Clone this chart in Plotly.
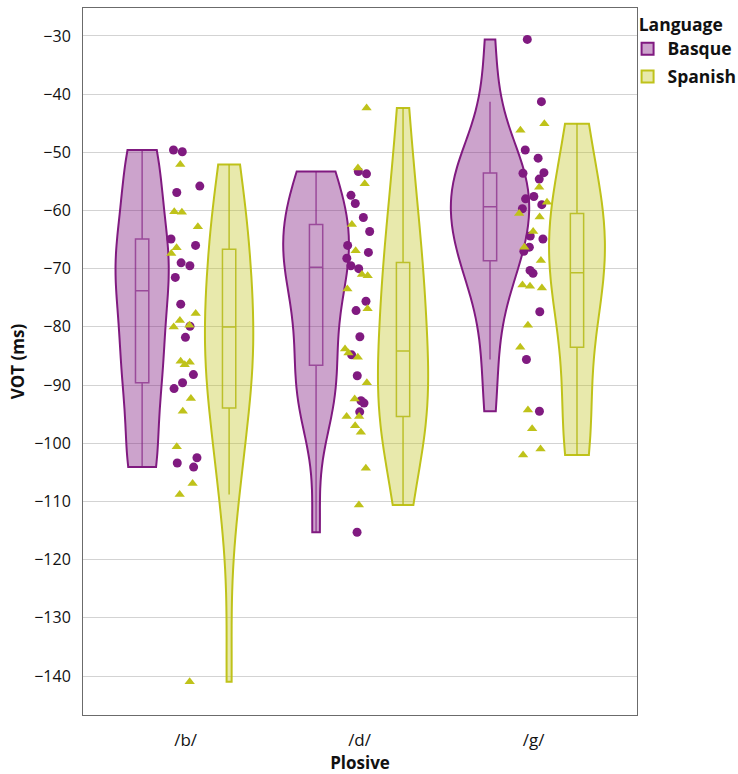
import plotly.graph_objects as go

plosives = ["/b/", "/d/", "/g/"]
languages = ["Basque", "Spanish"]

basque_b = [-49.6, -49.9, -55.8, -56.9, -64.9, -66.0, -69.0, -69.5, -71.5, -76.1,
            -79.9, -81.8, -88.2, -89.6, -90.6, -102.5, -103.4, -104.1]
basque_d = [-53.3, -53.7, -57.4, -58.8, -61.2, -63.6, -66.0, -67.2, -68.2, -69.5,
            -70.0, -75.6, -77.2, -81.7, -84.8, -88.4, -92.7, -93.1, -94.6, -115.3]
basque_g = [-30.6, -41.3, -49.6, -51.0, -53.5, -53.6, -54.6, -57.6, -58.0, -59.0,
            -59.7, -64.4, -64.9, -66.3, -67.0, -70.3, -70.8, -77.4, -85.6, -94.5]

spanish_b = [-52.1, -60.2, -60.3, -62.8, -66.4, -67.4, -77.7, -78.9, -79.7, -80.0,
             -85.9, -86.1, -86.5, -92.3, -94.5, -100.6, -106.9, -108.8, -141.0]
spanish_d = [-42.4, -52.7, -55.4, -62.4, -66.9, -71.0, -71.2, -73.5, -76.9, -83.8,
             -84.5, -85.2, -89.6, -92.4, -95.4, -95.4, -97.0, -98.1, -104.3, -110.6]
spanish_g = [-45.1, -46.2, -56.0, -58.6, -60.5, -61.1, -63.6, -66.3, -68.6, -72.8,
             -73.0, -73.3, -79.7, -83.5, -94.3, -97.5, -101.0, -102.0]

y_ticks = [-30, -40, -50, -60, -70, -80, -90, -100, -110, -120, -130, -140]
y_tick_text = ["\u2212" + str(abs(t)) for t in y_ticks]

series = {
    "Basque": [basque_b, basque_d, basque_g],
    "Spanish": [spanish_b, spanish_d, spanish_g],
}
style = {
    "Basque": dict(color="#801a80", fill="rgba(128,26,128,0.40)",
                   boxline="rgba(128,26,128,0.65)", symbol="circle",
                   pointpos=1.12, bandwidth=7.5),
    "Spanish": dict(color="#bfc21a", fill="rgba(191,194,26,0.36)",
                    boxline="rgba(180,184,20,0.85)", symbol="triangle-up",
                    pointpos=-1.12, bandwidth=None),
}

FONT = "'Open Sans', 'Noto Sans', sans-serif"

fig = go.Figure()
for lang in languages:
    xs, ys = [], []
    for p, vals in zip(plosives, series[lang]):
        xs += [p] * len(vals)
        ys += vals
    s = style[lang]
    fig.add_trace(go.Violin(
        x=xs, y=ys, name=lang, legendgroup=lang,
        scalegroup="all",
        bandwidth=s["bandwidth"],
        line=dict(color=s["color"], width=2),
        fillcolor=s["fill"],
        spanmode="hard",
        points="all", pointpos=s["pointpos"], jitter=0.42,
        marker=dict(color=s["color"], size=9, symbol=s["symbol"], opacity=1),
        box=dict(visible=True, width=0.17, fillcolor="rgba(0,0,0,0)",
                 line=dict(color=s["boxline"], width=1.5)),
        meanline=dict(visible=False),
    ))

fig.update_layout(
    width=738, height=774,
    margin=dict(l=83, r=101, t=8, b=59, autoexpand=False),
    paper_bgcolor="white", plot_bgcolor="white",
    violinmode="group", violingap=0, violingroupgap=0.1,
    font=dict(family=FONT, size=16, color="#111"),
    legend=dict(title=dict(text="\u00a0\u00a0<b>Language</b>", font=dict(size=17.5)),
                x=0.983, y=1.0, xanchor="left", yanchor="top",
                bgcolor="rgba(0,0,0,0)",
                font=dict(size=17.5, weight="bold"), tracegroupgap=2, itemwidth=30),
    showlegend=True,
)
fig.update_xaxes(
    categoryorder="array", categoryarray=plosives,
    range=[-0.59, 2.595],
    showgrid=False, showline=True, mirror=True, linecolor="#6b6b6b", linewidth=1,
    ticks="", tickfont=dict(size=17), ticklabelstandoff=10,
    title=dict(text="<b>Plosive</b>", font=dict(size=17), standoff=6),
)
fig.update_yaxes(
    range=[-146.7, -25.2],
    tickvals=y_ticks, ticktext=y_tick_text,
    showgrid=True, gridcolor="#d3d3d3", gridwidth=1,
    zeroline=False,
    showline=True, mirror=True, linecolor="#6b6b6b", linewidth=1,
    ticks="", tickfont=dict(size=16), ticklabelstandoff=8,
    title=dict(text="<b>VOT (ms)</b>", font=dict(size=17), standoff=5),
)

fig.write_html("out.html", config={"displayModeBar": False},
               post_script="document.body.style.margin='0px';")
